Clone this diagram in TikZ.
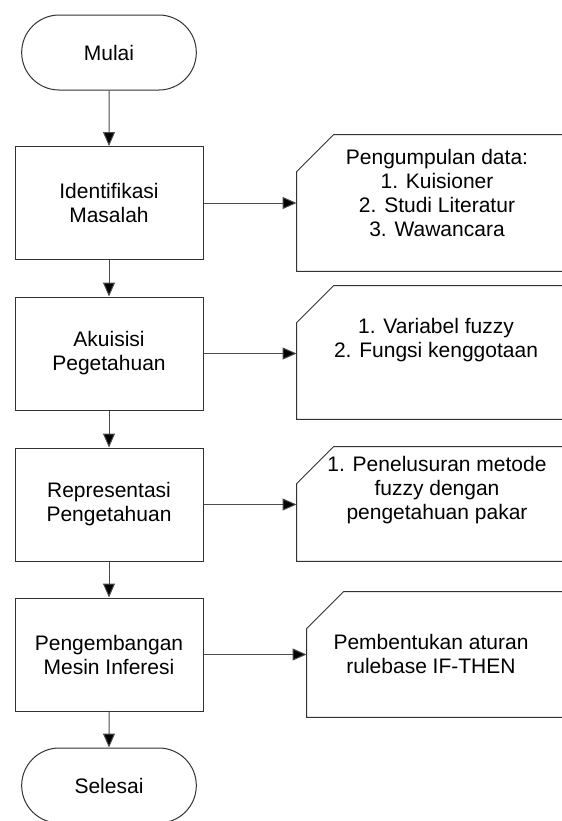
\documentclass[tikz,border=0pt]{standalone}
\usepackage{fontspec}
\setmainfont{Liberation Sans}
\usetikzlibrary{arrows.meta, positioning}

\tikzset{
  terminal/.style={draw=black!80, line width=0.5pt, rounded rectangle, minimum width=94pt, minimum height=37.5pt},
  process/.style={draw=black!80, line width=0.5pt, rectangle, minimum width=94pt, minimum height=56.5pt, align=center},
  note/.style={rectangle, inner sep=0pt},
  outline/.style={draw=black!80, line width=0.5pt},
  notetext/.style={align=center},
  flow/.style={draw=black!70, line width=0.5pt, -{Triangle[width=6pt,length=7pt,fill=black]}},
}
\usetikzlibrary{shapes.misc}

\begin{document}
\begin{tikzpicture}[x=0.5pt, y=-0.5pt, every node/.append style={font=\fontsize{10.5pt}{12pt}\selectfont}]
\path[use as bounding box] (0,0) rectangle (562,821);
\clip (0,0) rectangle (562,821);
% main flow
\node[terminal] (mulai) at (109,52.5) {Mulai};
\node[process] (identifikasi) at (109,203) {Identifikasi\\Masalah};
\node[process] (akuisisi) at (109,353.5) {Akuisisi\\Pegetahuan};
\node[process] (representasi) at (109,504.5) {Representasi\\Pengetahuan};
\node[process] (pengembangan) at (109,654.5) {Pengembangan\\Mesin Inferesi};
\node[terminal] (selesai) at (109,785.5) {Selesai};
% side notes (corner cut at top left, right side runs off the page)
\node[note, minimum width=171.5pt, minimum height=68pt] (data) at (468.5,203) {};
\node[note, minimum width=171.5pt, minimum height=66.5pt] (variabel) at (468.5,352.5) {};
\node[note, minimum width=171.5pt, minimum height=57pt] (penelusuran) at (468.5,504) {};
\node[note, minimum width=166.5pt, minimum height=62.5pt] (aturan) at (473.5,654.5) {};
\foreach \n in {data, variabel, penelusuran, aturan}
  \draw[outline] (\n.north east) -- ([xshift=18.5pt]\n.north west) -- ([yshift=-18.5pt]\n.north west) -- (\n.south west) -- (\n.south east);
\node[notetext] at (437,192.5) {Pengumpulan data:\\1. Kuisioner\\2. Studi Literatur\\3. Wawancara};
\node[notetext] at (436,340) {1. Variabel fuzzy\\2. Fungsi kenggotaan};
\node[notetext] at (437,490.5) {1. Penelusuran metode\\fuzzy dengan\\pengetahuan pakar};
\node[notetext] at (431,653.5) {Pembentukan aturan\\rulebase IF-THEN};
% connectors
\draw[flow] (mulai) -- (identifikasi);
\draw[flow] (identifikasi) -- (akuisisi);
\draw[flow] (akuisisi) -- (representasi);
\draw[flow] (representasi) -- (pengembangan);
\draw[flow] (pengembangan) -- (selesai);
\draw[flow] (identifikasi.east) -- (identifikasi.east -| data.west);
\draw[flow] (akuisisi.east) -- (akuisisi.east -| variabel.west);
\draw[flow] (representasi.east) -- (representasi.east -| penelusuran.west);
\draw[flow] (pengembangan.east) -- (pengembangan.east -| aturan.west);
\end{tikzpicture}
\end{document}
